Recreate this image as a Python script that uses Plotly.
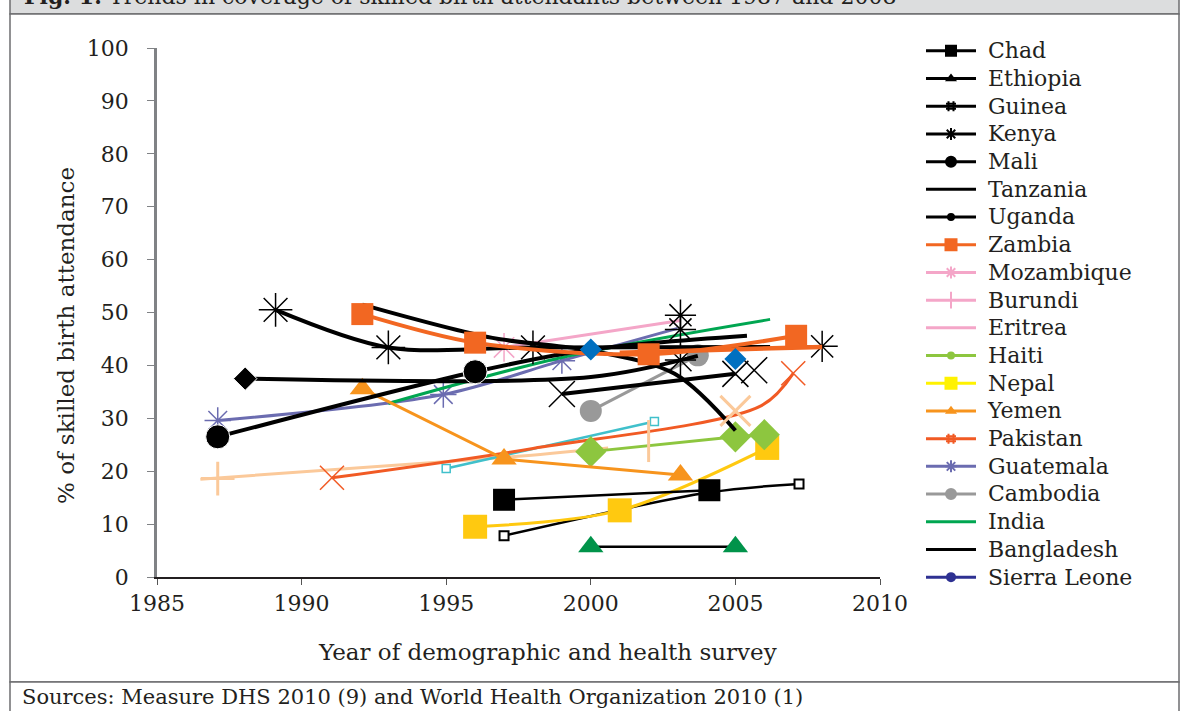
import plotly.graph_objects as go

# ---------------- data (year of survey, % skilled birth attendance) -------------
chad_year = [1997.0, 2004.1]
chad_sba = [14.6, 16.4]
ethiopia_year = [2000.0, 2005.0]
ethiopia_sba = [5.7, 5.7]
guinea_year = [1999.0, 2005.0]
guinea_sba = [34.6, 38.4]
kenya_year = [1989.1, 1993.0, 1998.0, 2006.2]
kenya_sba = [50.5, 43.4, 43.4, 43.5]
kenya_extra_year = [2003.1, 2003.1, 2003.1, 2008.0]
kenya_extra_sba = [49.5, 46.8, 41.0, 43.6]
mali_year = [1987.1, 1996.0, 2000.0, 2005.4]
mali_sba = [26.5, 38.8, 43.0, 45.6]
tanzania_year = [1992.1, 1996.6, 2000.0, 2002.9, 2005.0]
tanzania_sba = [51.5, 45.2, 42.8, 38.4, 27.7]
uganda_year = [1988.05, 2000.0, 2003.7]
uganda_sba = [37.5, 37.8, 41.8]
zambia_year = [1992.1, 1996.0, 2002.0, 2007.1]
zambia_sba = [49.7, 44.3, 42.1, 45.6]
zambia2_year = [2001.0, 2008.0]
zambia2_sba = [42.4, 43.5]
mozambique_year = [1997.0, 2003.1]
mozambique_sba = [43.4, 48.5]
burundi_year = [1986.5, 1997.0, 2000.6]
burundi_sba = [18.5, 22.6, 24.4]
burundi_mark_year = [1987.1, 2002.0, 2005.0]
burundi_mark_sba = [18.6, 25.7, 31.4]
eritrea_year = [1995.0, 2002.2]
eritrea_sba = [20.5, 29.4]
haiti_year = [2000.0, 2005.0, 2006.0]
haiti_sba = [23.7, 26.5, 26.9]
nepal_year = [1996.0, 2001.0, 2006.1]
nepal_sba = [9.5, 12.6, 24.4]
yemen_year = [1992.1, 1997.0, 2003.1]
yemen_sba = [35.6, 22.3, 19.3]
pakistan_year = [1991.05, 1998.0, 2005.9, 2007.0]
pakistan_sba = [18.75, 24.3, 32.4, 38.5]
guatemala_year = [1987.1, 1994.9, 1999.0, 2003.0]
guatemala_sba = [29.6, 34.5, 40.9, 47.0]
cambodia_year = [2000.0, 2003.7]
cambodia_sba = [31.4, 41.9]
india_year = [1993.0, 1999.0, 2006.2]
india_sba = [32.8, 41.5, 48.7]
bangladesh_year = [1997.0, 2004.1, 2007.2]
bangladesh_sba = [7.8, 16.0, 17.6]
sierra_year = [2000.0, 2005.0]
sierra_sba = [43.0, 41.2]
guinea_extra_year = [2005.65]
guinea_extra_sba = [39.1]

legend_names = ["Chad", "Ethiopia", "Guinea", "Kenya", "Mali", "Tanzania", "Uganda",
                "Zambia", "Mozambique", "Burundi", "Eritrea", "Haiti", "Nepal", "Yemen",
                "Pakistan", "Guatemala", "Cambodia", "India", "Bangladesh", "Sierra Leone"]

x_ticks = [1985, 1990, 1995, 2000, 2005, 2010]
y_ticks = list(range(0, 101, 10))

title_text = "<b>Fig. 1:</b> Trends in coverage of skilled birth attendants between 1987 and 2008"
source_text = "Sources: Measure DHS 2010 (9) and World Health Organization 2010 (1)"
x_title = "Year of demographic and health survey"
y_title = "% of skilled birth attendance"

# ---------------- styling --------------------------------------------------------
W, H = 1183, 711
L, R, T, B = 157, 303, 48, 134
PW, PH = W - L - R, H - T - B
FONT = "DejaVu Serif"
TXT = "#231F20"

BLACK = "#000000"
ORANGE_Z = "#F26722"
PINK = "#F4A6C8"
LGREEN = "#8DC63F"
YELLOW_L = "#FFF200"
YELLOW = "#FFC910"
ORANGE_Y = "#F7941D"
ORANGE_P = "#F15A24"
PURPLE = "#6B6CB0"
GREY = "#999999"
GREEN = "#00A651"
NAVY = "#2E3192"
PEACH = "#FBC99A"
CYAN = "#40C0CB"
DGREEN = "#00934A"
BLUE = "#0070C0"


def px(xp):
    return (xp - L) / PW


def py(yp):
    return (H - B - yp) / PH


def ends(n, s):
    return [s if i in (0, n - 1) else 0 for i in range(n)]


def firstk(n, k, s):
    return [s if i < k else 0 for i in range(n)]


fig = go.Figure()


def add(x, y, lc, lw, shape="linear", mode="lines", **marker):
    if marker:
        marker["opacity"] = 1
    fig.add_trace(go.Scatter(x=x, y=y, mode=mode, showlegend=False, hoverinfo="skip",
                             line=dict(color=lc, width=lw, shape=shape, smoothing=0.9),
                             marker=marker if marker else None))


# drawn series (bottom to top)
add(burundi_year, burundi_sba, PEACH, 3, "spline")
add(eritrea_year, eritrea_sba, CYAN, 2.5, mode="lines+markers",
    symbol="square", size=8, color="white", line=dict(color=CYAN, width=1.5))
add(pakistan_year, pakistan_sba, ORANGE_P, 3, "spline", mode="lines+markers",
    symbol="x-thin-open", size=ends(len(pakistan_year), 24), line=dict(color=ORANGE_P, width=1.5))
add(guatemala_year, guatemala_sba, PURPLE, 3, "spline", mode="lines+markers",
    symbol="asterisk-open", size=firstk(len(guatemala_year), 3, 22), line=dict(color=PURPLE, width=1.5))
add(india_year, india_sba, GREEN, 3, "spline")
add(mozambique_year, mozambique_sba, PINK, 3, mode="lines+markers",
    symbol="asterisk-open", size=[24, 0], line=dict(color=PINK, width=1.5))
add(cambodia_year, cambodia_sba, GREY, 3, mode="lines+markers",
    symbol="circle", size=22, color=GREY)
add(bangladesh_year, bangladesh_sba, BLACK, 2.5, "spline", mode="lines+markers",
    symbol="square", size=ends(len(bangladesh_year), 9), color="white", line=dict(color=BLACK, width=2))
add(nepal_year, nepal_sba, YELLOW, 3, "spline", mode="lines+markers",
    symbol="square", size=24, color=YELLOW)
add(haiti_year, haiti_sba, LGREEN, 3, mode="lines+markers",
    symbol="diamond", size=24, color=LGREEN)
add(yemen_year, yemen_sba, ORANGE_Y, 3, mode="lines+markers",
    symbol="triangle-up", size=22, color=ORANGE_Y)
add(ethiopia_year, ethiopia_sba, BLACK, 2.5, mode="lines+markers",
    symbol="triangle-up", size=22, color=DGREEN)
add(chad_year, chad_sba, BLACK, 2.5, mode="lines+markers",
    symbol="square", size=22, color=BLACK)
add(uganda_year, uganda_sba, BLACK, 4, "spline", mode="lines+markers",
    symbol="diamond", size=firstk(len(uganda_year), 1, 18), color=BLACK)
add(guinea_year, guinea_sba, BLACK, 4, mode="lines+markers",
    symbol="x-thin-open", size=26, line=dict(color=BLACK, width=1.5))
add(guinea_extra_year, guinea_extra_sba, BLACK, 0, mode="markers",
    symbol="x-thin-open", size=26, line=dict(color=BLACK, width=1.5))
add(mali_year, mali_sba, BLACK, 4, "spline", mode="lines+markers",
    symbol="circle", size=firstk(len(mali_year), 2, 24), color=BLACK)
add(kenya_year, kenya_sba, BLACK, 4, "spline", mode="lines+markers",
    symbol="asterisk-open", size=firstk(len(kenya_year), 3, 28), line=dict(color=BLACK, width=1.5))
add(kenya_extra_year, kenya_extra_sba, BLACK, 0, mode="markers",
    symbol="asterisk-open", size=26, line=dict(color=BLACK, width=1.5))
add(tanzania_year, tanzania_sba, BLACK, 4, "spline")
add(zambia2_year, zambia2_sba, ORANGE_Z, 4.5)
add(zambia_year, zambia_sba, ORANGE_Z, 4, "spline", mode="lines+markers",
    symbol="square", size=22, color=ORANGE_Z)
add(burundi_mark_year, burundi_mark_sba, PEACH, 0, mode="markers",
    symbol=["cross-thin-open", "line-ns-open", "x-thin-open"], size=[24, 30, 30],
    line=dict(color=PEACH, width=3))
add(sierra_year, sierra_sba, BLUE, 0, mode="markers",
    symbol="diamond", size=17, color=BLUE)

# legend entries
leg_style = {
    "Chad": (BLACK, "square", 10),
    "Ethiopia": (BLACK, "triangle-up", 7),
    "Guinea": (BLACK, "hash-open", 10),
    "Kenya": (BLACK, "asterisk-open", 10),
    "Mali": (BLACK, "circle", 10),
    "Tanzania": (BLACK, None, 0),
    "Uganda": (BLACK, "circle", 6),
    "Zambia": (ORANGE_Z, "square", 11),
    "Mozambique": (PINK, "asterisk-open", 10),
    "Burundi": (PINK, "line-ns-open", 12),
    "Eritrea": (PINK, None, 0),
    "Haiti": (LGREEN, "circle", 6),
    "Nepal": (YELLOW_L, "square", 11),
    "Yemen": (ORANGE_Y, "triangle-up", 7),
    "Pakistan": (ORANGE_P, "hash-open", 10),
    "Guatemala": (PURPLE, "asterisk-open", 10),
    "Cambodia": (GREY, "circle", 10),
    "India": (GREEN, None, 0),
    "Bangladesh": (BLACK, None, 0),
    "Sierra Leone": (NAVY, "circle", 8),
}
for name in legend_names:
    col, sym, sz = leg_style[name]
    label = '<span style="font-size:22px">\u00a0' + name + '</span>'
    if sym is None:
        fig.add_trace(go.Scatter(x=[None], y=[None], mode="lines", name=label,
                                 line=dict(color=col, width=3)))
    else:
        fig.add_trace(go.Scatter(x=[None], y=[None], mode="lines+markers", name=label,
                                 line=dict(color=col, width=3),
                                 marker=dict(symbol=sym, size=sz, color=col,
                                             line=dict(color=col, width=2))))

# frame shapes
FRAME = "#6D6E70"
shapes = [
    dict(type="rect", xref="paper", yref="paper", x0=px(10), x1=px(1179), y0=py(-5), y1=py(14),
         fillcolor="#DCDDDE", line=dict(color=FRAME, width=1.5), layer="below"),
    dict(type="rect", xref="paper", yref="paper", x0=px(10), x1=px(1179), y0=py(14), y1=py(682),
         fillcolor="white", line=dict(color=FRAME, width=1.5), layer="below"),
    dict(type="rect", xref="paper", yref="paper", x0=px(10), x1=px(1179), y0=py(682), y1=py(716),
         fillcolor="white", line=dict(color=FRAME, width=1.5), layer="below"),
]

annotations = [
    dict(text=title_text, xref="paper", yref="paper", x=px(22), y=py(11), xanchor="left",
         yanchor="bottom", showarrow=False, font=dict(family=FONT, size=22, color=TXT)),
    dict(text=source_text, xref="paper", yref="paper", x=px(20), y=py(697), xanchor="left",
         yanchor="middle", showarrow=False, font=dict(family=FONT, size=21, color=TXT)),
    dict(text=x_title, xref="paper", yref="paper", x=px(547), y=py(652), xanchor="center",
         yanchor="middle", showarrow=False, font=dict(family=FONT, size=23, color=TXT)),
    dict(text=y_title, xref="paper", yref="paper", x=px(66), y=py(336), xanchor="center",
         yanchor="middle", textangle=-90, showarrow=False,
         font=dict(family=FONT, size=23, color=TXT)),
]

fig.update_layout(
    width=W, height=H, margin=dict(l=L, r=R, t=T, b=B, pad=0),
    paper_bgcolor="white", plot_bgcolor="rgba(0,0,0,0)",
    font=dict(family=FONT, size=22, color=TXT),
    shapes=shapes, annotations=annotations,
    legend=dict(x=px(921), y=py(32), xanchor="left", yanchor="top",
                font=dict(family=FONT, size=19, color=TXT), maxheight=680,
                bgcolor="rgba(0,0,0,0)", itemwidth=50, tracegroupgap=0),
    xaxis=dict(range=[1985, 2010], tickvals=x_ticks, ticks="outside", ticklen=6,
               tickcolor="#555", showline=True, linecolor=TXT, linewidth=1.5,
               showgrid=False, zeroline=False, tickfont=dict(size=22), fixedrange=True),
    yaxis=dict(range=[0, 100], tickvals=y_ticks, ticks="outside", ticklen=7,
               tickcolor="#808285", showline=True, linecolor="#808285", linewidth=2.5,
               showgrid=False, zeroline=False, tickfont=dict(size=22), fixedrange=True,
               ticklabelstandoff=14),
)

fig.write_html("out.html", config={"displayModeBar": False},
               post_script="document.body.style.margin='0';")
